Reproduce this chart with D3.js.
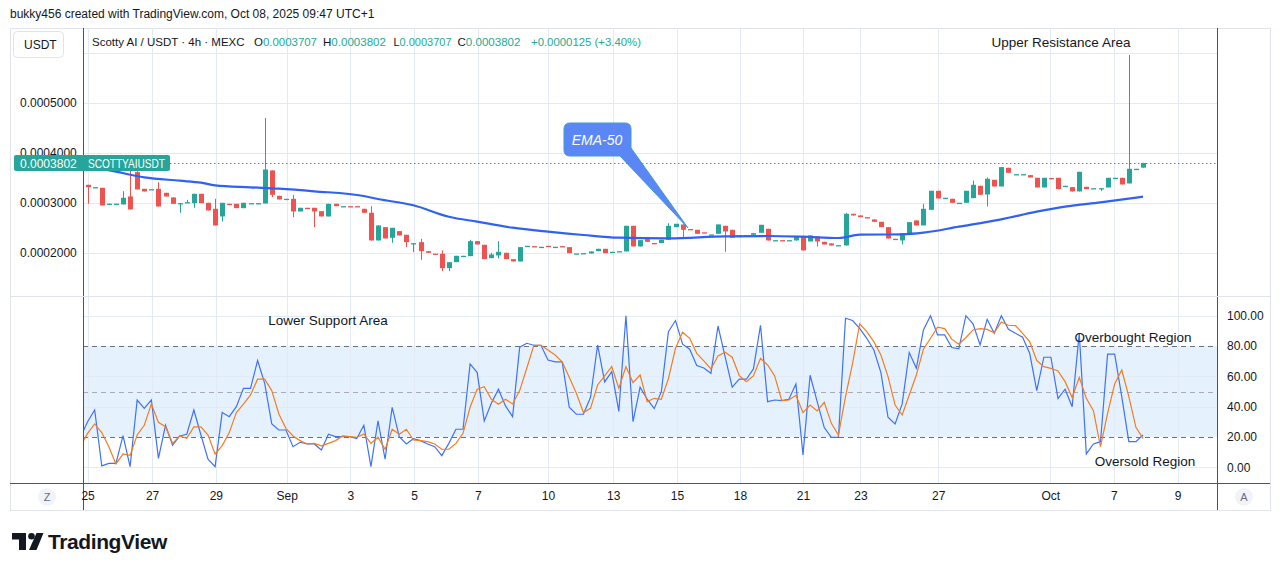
<!DOCTYPE html>
<html>
<head>
<meta charset="utf-8">
<script src="https://cdn.jsdelivr.net/npm/d3@7"></script>
<style>
  body { margin: 0; background: #ffffff; }
  svg text { font-family: "Liberation Sans", Arial, sans-serif; }
</style>
</head>
<body>
<div id="chart"></div>
<script>
// Width and height
var chart_width  = 1281;
var chart_height = 571;

// candles, 4h bars, prices in units of 1e-7 USDT
var opens = [
  3364, 3314, 3304, 2984, 2984, 2971, 3131, 3617, 3284, 3274,
  3284, 3204, 3111, 2994, 3004, 2997, 3184, 3004, 2884, 2731,
  2984, 2984, 2897, 2994, 2994, 2990, 3651, 3144, 3081, 3084,
  2831, 2904, 2904, 2837, 2731, 2984, 2934, 2937, 2937, 2884,
  2804, 2251, 2517, 2304, 2437, 2364, 2171, 2217, 2037, 1987,
  1984, 1697, 1817, 1941, 1937, 2237, 2164, 1897, 1951, 2004,
  1877, 1831, 2141, 2137, 2121, 2144, 2121, 2137, 2117, 1988,
  1994, 1991, 2037, 2084, 2021, 2034, 2031, 2544, 2131, 2277,
  2200, 2197, 2264, 2517, 2571, 2480, 2464, 2414, 2368, 2384,
  2544, 2464, 2317, 2354, 2364, 2404, 2484, 2254, 2257, 2254,
  2251, 2331, 2231, 2331, 2224, 2191, 2154, 2151, 2784, 2751,
  2717, 2671, 2624, 2517, 2284, 2251, 2397, 2651, 2551, 2864,
  3244, 3101, 3084, 3001, 3004, 3097, 3344, 3171, 3464, 3331,
  3704, 3574, 3574, 3557, 3504, 3311, 3500, 3504, 3341, 3317,
  3231, 3324, 3294, 3294, 3311, 3501, 3504, 3391, 3681, 3707
];
var closes = [
  3317, 3317, 2951, 2987, 2987, 3104, 2871, 3271, 3231, 3277,
  2931, 3131, 2984, 2997, 3017, 3184, 2997, 2851, 2551, 3004,
  2971, 2897, 3004, 2997, 2997, 3670, 3164, 3071, 3084, 2831,
  2904, 2897, 2831, 2731, 2984, 2937, 2937, 2934, 2931, 2804,
  2251, 2551, 2291, 2504, 2351, 2217, 2197, 2037, 2004, 1984,
  1697, 1817, 1944, 1944, 2237, 2171, 1877, 1971, 2024, 1877,
  1831, 2117, 2144, 2134, 2124, 2141, 2124, 2134, 1997, 1991,
  1997, 2031, 2084, 1997, 2024, 2037, 2544, 2131, 2257, 2224,
  2197, 2264, 2544, 2584, 2464, 2477, 2384, 2411, 2371, 2571,
  2431, 2304, 2357, 2357, 2397, 2564, 2251, 2257, 2254, 2257,
  2331, 2051, 2351, 2231, 2171, 2151, 2157, 2784, 2751, 2717,
  2697, 2624, 2517, 2291, 2264, 2397, 2617, 2551, 2884, 3244,
  3091, 3104, 3004, 3004, 3244, 3364, 3164, 3484, 3331, 3717,
  3604, 3577, 3577, 3511, 3311, 3504, 3497, 3277, 3344, 3231,
  3624, 3277, 3297, 3297, 3504, 3504, 3371, 3684, 3684, 3802
];
var highs = [
  3364, 3317, 3304, 2987, 2987, 3237, 3637, 3637, 3284, 3277,
  3417, 3204, 3111, 2997, 3064, 3184, 3184, 3004, 3084, 3004,
  2984, 2984, 3004, 2997, 2997, 4700, 3651, 3144, 3084, 3164,
  2904, 2904, 2904, 2837, 2984, 2984, 2937, 2937, 2937, 2884,
  2937, 2551, 2517, 2504, 2437, 2364, 2197, 2284, 2037, 1987,
  2051, 1817, 1944, 1944, 2264, 2237, 2164, 2004, 2237, 2004,
  1877, 2117, 2144, 2137, 2124, 2144, 2124, 2137, 2117, 1991,
  1997, 2031, 2084, 2084, 2024, 2037, 2544, 2544, 2257, 2277,
  2200, 2264, 2597, 2584, 2571, 2480, 2464, 2414, 2371, 2571,
  2544, 2464, 2357, 2357, 2397, 2564, 2484, 2257, 2257, 2257,
  2331, 2331, 2351, 2331, 2224, 2191, 2157, 2804, 2784, 2751,
  2717, 2671, 2624, 2517, 2284, 2397, 2617, 2651, 2984, 3244,
  3244, 3104, 3084, 3004, 3244, 3451, 3344, 3511, 3464, 3717,
  3704, 3577, 3577, 3557, 3504, 3504, 3500, 3504, 3344, 3317,
  3624, 3324, 3297, 3297, 3504, 3504, 3504, 5960, 3684, 3802
];
var lows = [
  2984, 3314, 2951, 2984, 2984, 2971, 2871, 3271, 3231, 3274,
  2931, 3131, 2984, 2804, 3004, 2904, 2997, 2851, 2551, 2631,
  2971, 2897, 2897, 2994, 2994, 2990, 3117, 3071, 3081, 2717,
  2831, 2897, 2517, 2731, 2731, 2937, 2934, 2934, 2931, 2804,
  2251, 2251, 2291, 2204, 2351, 2117, 2017, 1864, 2004, 1984,
  1637, 1637, 1817, 1941, 1937, 2171, 1877, 1897, 1891, 1877,
  1831, 1831, 2141, 2134, 2121, 2141, 2121, 2134, 1997, 1988,
  1994, 1991, 2037, 1997, 2021, 2034, 2031, 2131, 2131, 2224,
  2197, 2197, 2264, 2517, 2317, 2477, 2384, 2411, 2368, 2384,
  2024, 2304, 2317, 2354, 2364, 2404, 2251, 2254, 2254, 2254,
  2251, 2051, 2231, 2131, 2171, 2151, 2154, 2151, 2751, 2717,
  2697, 2624, 2517, 2291, 2264, 2171, 2397, 2551, 2811, 2864,
  3091, 3101, 3004, 3001, 3004, 3097, 3164, 2931, 3331, 3331,
  3604, 3574, 3574, 3511, 3311, 3311, 3497, 3277, 3341, 3231,
  3231, 3277, 3294, 3237, 3311, 3501, 3371, 3391, 3681, 3707
];

// EMA-50 at some bars
var emaBars   = [0, 4, 8, 13, 16, 18, 23, 27, 32, 39, 41, 46, 51, 55, 60, 65,
                 70, 75, 82, 90, 96, 101, 106, 109, 115, 118, 123, 129, 134, 138, 143, 149];
var emaValues = [3736, 3626, 3514, 3446, 3406, 3354, 3314, 3286, 3234, 3140, 3080, 2954, 2726, 2626, 2506, 2426,
                 2360, 2306, 2294, 2334, 2340, 2326, 2300, 2366, 2374, 2406, 2526, 2674, 2826, 2926, 3014, 3126];

// oscillator (first value is the bar before bar 0)
var oscFirstBar = -1;
var oscK = [
  20, 30.1, 37.8, 0.9, 2.6, 2.6, 20.9, 0.4, 44.4, 38.9,
  44.4, 5.9, 27.7, 14.5, 20.7, 21.8, 37.8, 21.3, 5.3, 0.4,
  36.1, 33.4, 40.0, 52.1, 52.1, 70.4, 55.4, 28.6, 24.6, 24.6,
  13.6, 16.5, 15.4, 15.4, 11.4, 21.8, 20.2, 20.2, 20.2, 18.9,
  27.7, 0.4, 30.6, 5.3, 39.6, 20.2, 15.4, 18.9, 17.6, 15.4,
  13.6, 7.7, 15.8, 25.1, 25.1, 68.2, 62.5, 30.6, 42.2, 51.5,
  40.5, 33.4, 79.2, 81.8, 80.5, 80.5, 70.8, 69.5, 69.5, 39.6,
  35.0, 35.0, 46.2, 80.7, 56.3, 63.1, 36.9, 100, 30.1, 52.8,
  44.9, 38.7, 49.9, 89.5, 96.8, 81.2, 77.9, 67.1, 65.5, 62.0,
  93.2, 73.0, 52.8, 58.1, 58.1, 64.9, 93.7, 43.3, 44.4, 44.0,
  44.9, 55.0, 8.1, 60.7, 43.3, 26.2, 19.8, 19.8, 98.3, 96.8,
  91.7, 85.1, 77.4, 62.5, 33.0, 28.6, 41.8, 75.7, 65.3, 90.6,
  100, 87.3, 87.3, 79.0, 78.1, 100, 94.6, 80.7, 97.6, 88.4,
  100, 91.0, 88.4, 85.8, 75.2, 50.6, 72.6, 72.6, 45.3, 51.5,
  40.0, 88.4, 8.8, 15.4, 16.9, 74.6, 74.6, 46.6, 16.9, 16.9,
  21.3
];
var oscD = [
  14, 22.4, 28.6, 22.9, 13.6, 2.2, 8.8, 7.9, 21.3, 27.7,
  41.8, 29.7, 26.8, 15.8, 20.7, 19.1, 26.6, 26.6, 21.3, 8.8,
  14.3, 22.9, 36.1, 41.6, 47.7, 58.1, 58.1, 50.6, 35.2, 25.7,
  20.7, 17.6, 15.4, 15.8, 14.1, 15.8, 17.6, 20.7, 20.2, 19.8,
  22.0, 15.8, 19.8, 11.9, 25.1, 21.8, 25.1, 18.0, 17.6, 16.9,
  15.4, 11.9, 11.9, 15.8, 22.4, 39.6, 51.5, 53.2, 44.9, 41.6,
  44.9, 41.8, 50.6, 65.3, 80.5, 80.5, 77.4, 74.1, 69.5, 59.4,
  48.8, 36.1, 38.9, 54.3, 60.3, 66.4, 52.1, 66.4, 55.9, 60.9,
  43.3, 45.5, 44.9, 58.5, 78.5, 89.1, 85.1, 75.2, 70.2, 64.9,
  73.5, 75.9, 72.6, 60.5, 56.5, 60.3, 71.9, 67.5, 60.3, 44.0,
  44.4, 47.5, 36.1, 41.1, 37.2, 42.9, 29.0, 21.3, 46.6, 68.6,
  94.6, 89.5, 82.9, 74.1, 59.8, 41.1, 34.5, 47.7, 60.9, 77.9,
  85.1, 92.4, 91.5, 84.5, 81.2, 85.6, 90.6, 91.5, 91.0, 88.8,
  95.9, 93.7, 93.5, 88.4, 82.9, 70.4, 66.4, 65.3, 63.6, 56.5,
  46.0, 59.4, 45.5, 37.4, 13.6, 35.6, 55.0, 64.2, 46.6, 26.4,
  19.1
];

// time axis: label and the bar where the day starts
var tickLabels = ["25", "27", "29", "Sep", "3", "5", "7", "10", "13", "15", "18", "21", "23", "27", "Oct", "7", "9"];
var tickBars   = [0, 9.1, 18.1, 28.1, 37.1, 46.1, 55.1, 65, 74.2, 83.2, 92.1, 101, 109.1, 120.1, 135.9, 144.9, 153.9];

var priceTicks = [2000, 3000, 4000, 5000];
var priceGrid  = [2000, 3000, 4000, 5000, 6000];
var oscTicks   = [0, 20, 40, 60, 80, 100];
var lastPrice  = 3802;

// legend values
var legendOHLC = [["O", "0.0003707"], ["H", "0.0003802"], ["L", "0.0003707"], ["C", "0.0003802"]];
var legendChange = "+0.0000125 (+3.40%)";

// frame
var paneLeft = 83, paneRight = 1217, paneTop = 28, paneSplit = 296, paneBottom = 483;
var up_color = "#26a69a", down_color = "#ef5350";

var x = d3.scaleLinear().domain([0, 149]).range([87.6, 1143]);
var y = d3.scaleLinear().domain([2000, 5000]).range([253, 103]);
var yOsc = d3.scaleLinear().domain([0, 100]).range([467.3, 315.7]);

var svg = d3.select("#chart")
    .append("svg")
    .attr("width", chart_width)
    .attr("height", chart_height);

svg.append("rect").attr("width", chart_width).attr("height", chart_height).attr("fill", "#fff");

var defs = svg.append("defs");
defs.append("clipPath").attr("id", "pricePane")
    .append("rect").attr("x", paneLeft).attr("y", paneTop)
    .attr("width", paneRight - paneLeft).attr("height", paneSplit - paneTop);
defs.append("clipPath").attr("id", "oscPane")
    .append("rect").attr("x", paneLeft).attr("y", paneSplit)
    .attr("width", paneRight - paneLeft).attr("height", paneBottom - paneSplit);

// watermark title
svg.append("text").attr("x", 10).attr("y", 18)
    .attr("font-size", 12).attr("fill", "#131722")
    .text("bukky456 created with TradingView.com, Oct 08, 2025 09:47 UTC+1");

// outer frame
svg.append("rect").attr("x", 10.5).attr("y", paneTop + 0.5).attr("width", 1260).attr("height", 482)
    .attr("fill", "none").attr("stroke", "#e0e3eb");

// oscillator band
svg.append("rect")
    .attr("x", paneLeft).attr("width", paneRight - paneLeft)
    .attr("y", yOsc(80)).attr("height", yOsc(20) - yOsc(80))
    .attr("fill", "#e5f2fd");

// grid
var grid = svg.append("g");
grid.selectAll(".vg").data(tickBars).enter().append("line")
    .attr("x1", function(d){ return Math.round(x(d)) + 0.5; })
    .attr("x2", function(d){ return Math.round(x(d)) + 0.5; })
    .attr("y1", paneTop).attr("y2", paneBottom)
    .attr("stroke", "#e3eaf3");
grid.selectAll(".hg").data(priceGrid).enter().append("line")
    .attr("x1", paneLeft).attr("x2", paneRight)
    .attr("y1", function(d){ return Math.round(y(d)) + 0.5; })
    .attr("y2", function(d){ return Math.round(y(d)) + 0.5; })
    .attr("stroke", "#e3eaf3");
grid.selectAll(".og").data([0, 40, 60, 100]).enter().append("line")
    .attr("x1", paneLeft).attr("x2", paneRight)
    .attr("y1", function(d){ return Math.round(yOsc(d)) + 0.5; })
    .attr("y2", function(d){ return Math.round(yOsc(d)) + 0.5; })
    .attr("stroke", "#e3eaf3");
svg.selectAll(".band").data([80, 50, 20]).enter().append("line")
    .attr("x1", paneLeft).attr("x2", paneRight)
    .attr("y1", function(d){ return Math.round(yOsc(d)) + 0.5; })
    .attr("y2", function(d){ return Math.round(yOsc(d)) + 0.5; })
    .attr("stroke", function(d){ return d === 50 ? "#a9acb5" : "#6e717a"; })
    .attr("stroke-dasharray", "5,4");

// last price dotted line
svg.append("line")
    .attr("x1", 170).attr("x2", paneRight)
    .attr("y1", Math.round(y(lastPrice)) + 0.5).attr("y2", Math.round(y(lastPrice)) + 0.5)
    .attr("stroke", up_color).attr("stroke-dasharray", "1.5,2.5");

// candles
var bars = d3.range(opens.length);
var candles = svg.append("g").attr("clip-path", "url(#pricePane)");
candles.selectAll(".wick").data(bars).enter().append("line")
    .attr("x1", function(i){ return Math.round(x(i)) + 0.5; })
    .attr("x2", function(i){ return Math.round(x(i)) + 0.5; })
    .attr("y1", function(i){ return y(highs[i]); })
    .attr("y2", function(i){ return y(lows[i]); })
    .attr("stroke", function(i){ return closes[i] >= opens[i] ? up_color : down_color; });
candles.selectAll(".body").data(bars).enter().append("rect")
    .attr("x", function(i){ return Math.round(x(i)) - 2; })
    .attr("width", 5)
    .attr("y", function(i){ return y(Math.max(opens[i], closes[i])); })
    .attr("height", function(i){ return Math.max(1.3, Math.abs(y(opens[i]) - y(closes[i]))); })
    .attr("fill", function(i){ return closes[i] >= opens[i] ? up_color : down_color; });

// EMA-50
var emaLine = d3.line()
    .x(function(d, i){ return x(emaBars[i]); })
    .y(function(d){ return y(d); })
    .curve(d3.curveMonotoneX);
svg.append("path").datum(emaValues)
    .attr("clip-path", "url(#pricePane)")
    .attr("d", emaLine)
    .attr("fill", "none").attr("stroke", "#2f62f3").attr("stroke-width", 2.2);

// oscillator lines
var oscLine = d3.line()
    .x(function(d, i){ return x(oscFirstBar + i); })
    .y(function(d){ return yOsc(d); });
svg.append("path").datum(oscK)
    .attr("clip-path", "url(#oscPane)")
    .attr("d", oscLine)
    .attr("fill", "none").attr("stroke", "#3f72f5").attr("stroke-width", 1.2);
svg.append("path").datum(oscD)
    .attr("clip-path", "url(#oscPane)")
    .attr("d", oscLine)
    .attr("fill", "none").attr("stroke", "#f57c1f").attr("stroke-width", 1.2);

// separators
svg.append("line").attr("x1", paneLeft + 0.5).attr("x2", paneLeft + 0.5).attr("y1", paneTop).attr("y2", 510)
    .attr("stroke", "#50535e");
svg.append("line").attr("x1", paneRight + 0.5).attr("x2", paneRight + 0.5).attr("y1", paneTop).attr("y2", 510)
    .attr("stroke", "#50535e");
svg.append("line").attr("x1", 10).attr("x2", 1270).attr("y1", paneSplit + 0.5).attr("y2", paneSplit + 0.5)
    .attr("stroke", "#e0e3eb");
svg.append("line").attr("x1", 10).attr("x2", 1270).attr("y1", paneBottom + 0.5).attr("y2", paneBottom + 0.5)
    .attr("stroke", "#50535e");

// price axis (on the left)
var yAxis = svg.append("g")
    .attr("transform", "translate(14,0)")
    .call(d3.axisRight(y).tickValues(priceTicks).tickSize(0).tickPadding(6)
        .tickFormat(function(d){ return (d / 1e7).toFixed(7); }));
yAxis.select(".domain").remove();
yAxis.selectAll("text").attr("font-size", 12).attr("fill", "#131722")
    .attr("font-family", "Liberation Sans, Arial, sans-serif");

// oscillator axis (on the right)
var oAxis = svg.append("g")
    .attr("transform", "translate(" + (paneRight + 4) + ",0)")
    .call(d3.axisRight(yOsc).tickValues(oscTicks).tickSize(0).tickPadding(6).tickFormat(d3.format(".2f")));
oAxis.select(".domain").remove();
oAxis.selectAll("text").attr("font-size", 12).attr("fill", "#131722")
    .attr("font-family", "Liberation Sans, Arial, sans-serif");

// time axis
var xAxis = svg.append("g")
    .attr("transform", "translate(0," + paneBottom + ")")
    .call(d3.axisBottom(x).tickValues(tickBars).tickSize(0).tickPadding(8)
        .tickFormat(function(d, i){ return tickLabels[i]; }));
xAxis.select(".domain").remove();
xAxis.selectAll("text").attr("font-size", 12).attr("fill", "#131722")
    .attr("font-family", "Liberation Sans, Arial, sans-serif");

// Z / A buttons
[[47, "Z"], [1244, "A"]].forEach(function(b){
  svg.append("circle").attr("cx", b[0]).attr("cy", 497).attr("r", 9).attr("fill", "#f0f3fa");
  svg.append("text").attr("x", b[0]).attr("y", 501).attr("text-anchor", "middle")
      .attr("font-size", 11).attr("fill", "#6a6d78").text(b[1]);
});

// USDT button
svg.append("rect").attr("x", 13.5).attr("y", 31.5).attr("width", 50).attr("height", 26).attr("rx", 4)
    .attr("fill", "#fff").attr("stroke", "#e0e3eb");
svg.append("text").attr("x", 24).attr("y", 49).attr("font-size", 12).attr("fill", "#131722").text("USDT");

// legend line
svg.append("text").attr("x", 92).attr("y", 46).attr("font-size", 11.5).attr("fill", "#131722")
    .text("Scotty AI / USDT \u00b7 4h \u00b7 MEXC");
var legendX = [254, 323, 393.5, 457.5];
var legendW = [63, 63, 58, 63];
legendOHLC.forEach(function(o, i){
  var t = svg.append("text").attr("x", legendX[i]).attr("y", 46).attr("font-size", 11.5)
      .attr("textLength", legendW[i]).attr("lengthAdjust", "spacingAndGlyphs");
  t.append("tspan").attr("fill", "#131722").text(o[0]);
  t.append("tspan").attr("fill", "#22ab94").text(o[1]);
});
svg.append("text").attr("x", 531).attr("y", 46).attr("font-size", 11.5).attr("fill", "#22ab94")
    .attr("textLength", 110).attr("lengthAdjust", "spacingAndGlyphs")
    .text(legendChange);

// last price label
svg.append("rect").attr("x", 14).attr("y", 155).attr("width", 156).attr("height", 16).attr("rx", 2)
    .attr("fill", up_color);
svg.append("text").attr("x", 20).attr("y", 167.5).attr("font-size", 12).attr("fill", "#fff")
    .text((lastPrice / 1e7).toFixed(7));
svg.append("text").attr("x", 88).attr("y", 167.5).attr("font-size", 12).attr("fill", "#fff")
    .attr("textLength", 77).attr("lengthAdjust", "spacingAndGlyphs")
    .text("SCOTTYAIUSDT");

// EMA-50 callout
svg.append("path")
    .attr("d", "M570,123 H625 Q631,123 631,129 V148 L688,228 L620,156 H570 Q564,156 564,150 V129 Q564,123 570,123 Z")
    .attr("fill", "#5b87f6").attr("stroke", "#3b9bd9").attr("stroke-width", 1);
svg.append("text").attr("x", 597).attr("y", 145).attr("text-anchor", "middle")
    .attr("font-size", 14).attr("font-style", "italic").attr("fill", "#fff").text("EMA-50");

// annotations
var notes = [
  [1061, 47, "Upper Resistance Area"],
  [328, 325, "Lower Support Area"],
  [1133, 342, "Overbought Region"],
  [1145, 466, "Oversold Region"]
];
svg.selectAll(".note").data(notes).enter().append("text")
    .attr("x", function(d){ return d[0]; })
    .attr("y", function(d){ return d[1]; })
    .attr("text-anchor", "middle")
    .attr("font-size", 13.5).attr("fill", "#131722")
    .text(function(d){ return d[2]; });

// TradingView logo
var logo = svg.append("g").attr("fill", "#131722");
logo.append("path").attr("d", "M12,533 H26 V550 H19 V539.5 H12 Z");
logo.append("circle").attr("cx", 31.5).attr("cy", 536.3).attr("r", 3.3);
logo.append("path").attr("d", "M36.5,533 H43.5 L36.5,550 H29 Z");
svg.append("text").attr("x", 48).attr("y", 549).attr("font-size", 21).attr("font-weight", 600)
    .attr("font-family", "Inter, sans-serif").attr("fill", "#131722").attr("letter-spacing", -0.4)
    .text("TradingView");
</script>
</body>
</html>
